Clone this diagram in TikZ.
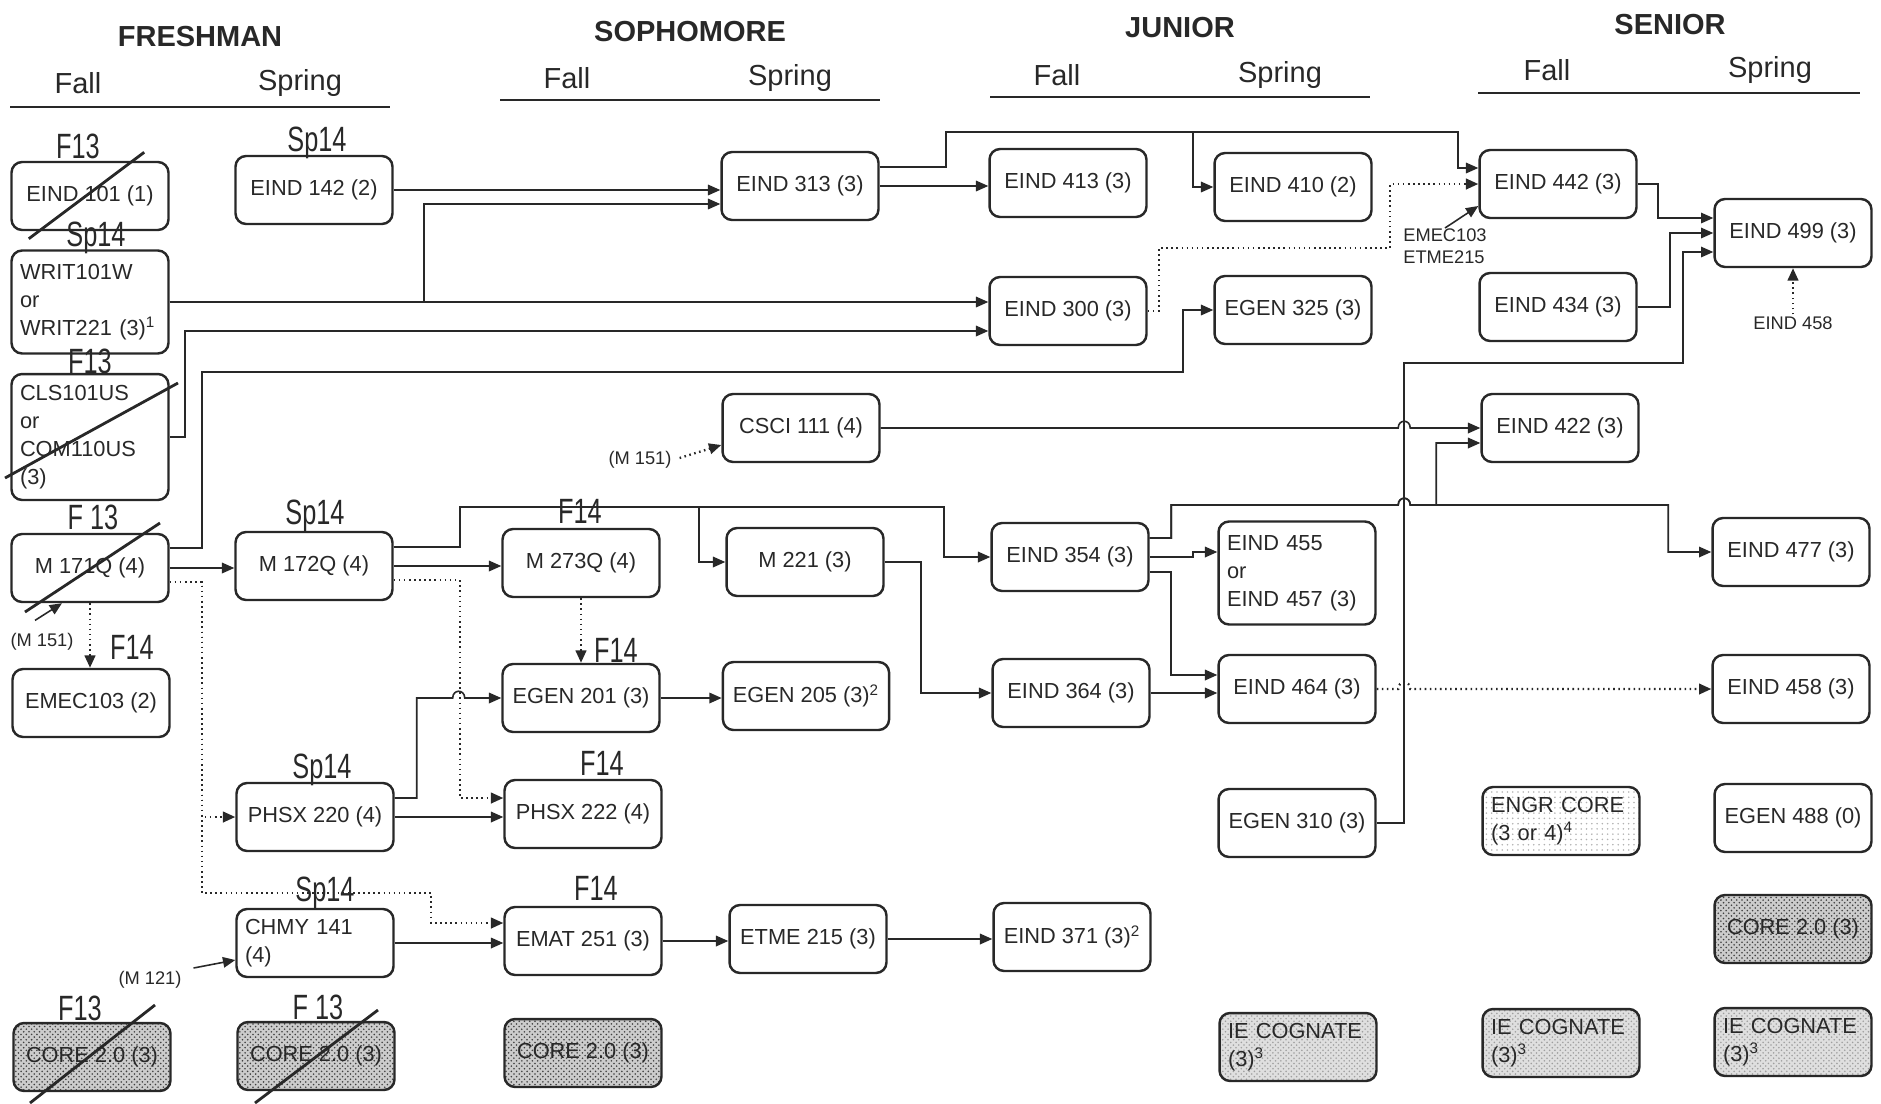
\documentclass[tikz,border=0pt]{standalone}
\usepackage{fontspec}
\setmainfont{Liberation Sans}
\newfontfamily\handfont[FakeStretch=0.72]{Liberation Sans}
\usetikzlibrary{arrows.meta,patterns}
\definecolor{inkc}{RGB}{40,40,40}

\begin{document}
\begin{tikzpicture}[x=0.02cm,y=-0.02cm]
\tikzstyle{course}=[draw=inkc, line width=1.4pt, rounded corners=6pt, minimum width=3.14cm, minimum height=1.36cm, inner xsep=0.2cm, inner ysep=0pt, align=left, text=inkc, font=\fontsize{12.4}{15.9}\selectfont];
\tikzstyle{coursem}=[course, text width=2.8cm, inner xsep=0.17cm];
\tikzstyle{corebox}=[course, preaction={fill=gray!40}, pattern=crosshatch dots, pattern color=black!75];
\tikzstyle{cogbox}=[coursem, preaction={fill=gray!25}, pattern=crosshatch dots, pattern color=gray!75];
\tikzstyle{engrbox}=[coursem, pattern=dots, pattern color=gray!60];
\tikzstyle{year}=[text=inkc, font=\bfseries\fontsize{16.5}{18}\selectfont];
\tikzstyle{term}=[text=inkc, font=\fontsize{16.5}{18}\selectfont];
\tikzstyle{note}=[text=inkc, inner sep=1pt, align=left, font=\fontsize{10.4}{13}\selectfont];
\tikzstyle{hand}=[text=inkc, inner sep=0pt, font=\handfont\fontsize{20}{20}\selectfont];
\tikzstyle{strike}=[draw=inkc, line width=1.6pt];
\tikzstyle{arr}=[draw=inkc, line width=0.9pt, -{Triangle[length=7pt,width=6pt]}];
\tikzstyle{dotarr}=[arr, dotted, line width=1.3pt];

\useasboundingbox (0,0) rectangle (1881,1103);

% headings
\foreach \n/\x/\y/\t in {hfr/200/37/FRESHMAN, hso/690/32/SOPHOMORE, hjr/1180/28/JUNIOR, hsr/1670/25/SENIOR}
  \node[year] (\n) at (\x,\y) {\t};
\foreach \n/\x/\y/\t in {frfa/78/83/Fall, frsp/300/83/Spring, sofa/567/78/Fall, sosp/790/78/Spring,
                         jrfa/1057/75/Fall, jrsp/1280/75/Spring, srfa/1547/70/Fall, srsp/1770/70/Spring}
  \node[term] (\n) at (\x,\y) {\t};
\foreach \a/\b/\y in {10/390/107, 500/880/100, 990/1370/97, 1478/1860/93}
  \draw[inkc, line width=1.3pt] (\a,\y) -- (\b,\y);

% courses
\foreach \n/\x/\y/\t in {e101/90/196/{EIND 101 (1)}, m171/90/568/{M 171Q (4)}, emec/91/703/{EMEC103 (2)},
    e142/314/190/{EIND 142 (2)}, m172/314/566/{M 172Q (4)}, phsx220/315/817/{PHSX 220 (4)},
    m273/581/563/{M 273Q (4)}, egen201/581/698/{EGEN 201 (3)}, phsx222/583/814/{PHSX 222 (4)},
    emat/583/941/{EMAT 251 (3)}, e313/800/186/{EIND 313 (3)}, csci/801/428/{CSCI 111 (4)},
    m221/805/562/{M 221 (3)}, egen205/806/696/{EGEN 205 (3)\textsuperscript{2}}, etme/808/939/{ETME 215 (3)},
    e413/1068/183/{EIND 413 (3)}, e300/1068/311/{EIND 300 (3)}, e354/1070/557/{EIND 354 (3)},
    e364/1071/693/{EIND 364 (3)}, e371/1072/937/{EIND 371 (3)\textsuperscript{2}},
    e410/1293/187/{EIND 410 (2)}, egen325/1293/310/{EGEN 325 (3)}, e464/1297/689/{EIND 464 (3)},
    egen310/1297/823/{EGEN 310 (3)}, e442/1558/184/{EIND 442 (3)}, e434/1558/307/{EIND 434 (3)},
    e422/1560/428/{EIND 422 (3)}, e499/1793/233/{EIND 499 (3)}, e477/1791/552/{EIND 477 (3)},
    e458/1791/689/{EIND 458 (3)}, egen488/1793/818/{EGEN 488 (0)}}
  \node[course] (\n) at (\x,\y) {\t};
\node[coursem, minimum height=2.06cm] (writ) at (90,302) {WRIT101W\\or\\WRIT221 (3)\textsuperscript{1}};
\node[coursem, minimum height=2.52cm] (cls) at (90,437) {CLS101US\\or\\COM110US\\(3)};
\node[coursem, minimum height=2.06cm] (e455) at (1297,573) {EIND 455\\or\\EIND 457 (3)};
\node[coursem] (chmy) at (315,943) {CHMY 141\\(4)};
\foreach \n/\x/\y in {core1/92/1057, core2/316/1056, core3/583/1053, core4/1793/929}
  \node[corebox] (\n) at (\x,\y) {CORE 2.0 (3)};
\foreach \n/\x/\y in {iecog1/1298/1047, iecog2/1561/1043, iecog3/1793/1042}
  \node[cogbox] (\n) at (\x,\y) {IE COGNATE\\(3)\textsuperscript{3}};
\node[engrbox] (engr) at (1561,821) {ENGR CORE\\(3 or 4)\textsuperscript{4}};

% side notes
\node[note] (m151a) at (42,642) {(M 151)};
\node[note] (m151b) at (640,460) {(M 151)};
\node[note] (m121) at (150,980) {(M 121)};
\node[note, anchor=north west, inner sep=0pt] (emecl) at (1403,228) {EMEC103\\ETME215};
\node[note] (e458l) at (1793,323) {EIND 458};

% freshman
\draw[arr] (e142.east) -- (e142.east -| e313.west);
\draw[arr] (writ.east) -- ++(254,0) |- ([shift={(0,18)}]e313.west);
\draw[arr] (writ.east) -- (writ.east -| e300.west);
\draw[arr] (cls.east) -- ++(15,0) |- ([shift={(0,20)}]e300.west);
\draw[arr] ([shift={(0,-20)}]m171.east) -- ++(32,0) -- ++(0,-176) -- ++(981,0) |- (egen325.west);
\draw[arr] (m171.east) -- (m171.east -| m172.west);
\draw[dotarr] ([shift={(0,14)}]m171.east) -- ++(32,0) |- (phsx220.west);
\draw[dotarr] ([shift={(0,14)}]m171.east) -- ++(32,0) -- ++(0,311) -- ++(229.5,0) |- ([shift={(0,-18)}]emat.west);
\draw[dotarr] (m171.south) -- (m171.south |- emec.north);
\draw[arr] ([shift={(-7,-11)}]m151a.north) -- ([shift={(-28,0)}]m171.south);
\draw[arr] (m172.east) -- (m172.east -| m273.west);
\draw[arr] ([shift={(0,-19)}]m172.east) -- ++(66,0) -- ++(0,-40) -- ++(239,0) |- (m221.west);
\draw[arr] ([shift={(0,-19)}]m172.east) -- ++(66,0) -- ++(0,-40) -- ++(484,0) |- (e354.west);
\draw[dotarr] ([shift={(0,14)}]m172.east) -- ++(66,0) |- ([shift={(0,-16)}]phsx222.west);
\draw[arr] ([shift={(0,-19)}]phsx220.east) -- ++(22,0) -- ++(0,-100) -- ++(36,0) .. controls +(0,-9) and +(0,-9) .. ++(12,0) -- (egen201.west);
\draw[arr] (phsx220.east) -- (phsx220.east -| phsx222.west);
\draw[arr] (chmy.east) -- (chmy.east -| emat.west);
\draw[arr] ([shift={(10,-12)}]m121.east) -- ([shift={(0,17)}]chmy.west);

% sophomore
\draw[dotarr] (m273.south) -- (m273.south |- egen201.north);
\draw[arr] (egen201.east) -- (egen201.east -| egen205.west);
\draw[arr] (emat.east) -- (emat.east -| etme.west);
\draw[arr] (etme.east) -- (etme.east -| e371.west);
\draw[arr] (m221.east) -- ++(36,0) |- (e364.west);
\draw[dotarr] ([shift={(6,-2)}]m151b.east) -- ([shift={(0,17)}]csci.west);
\draw[arr] (csci.east) -- ++(517.5,0) .. controls +(0,-9) and +(0,-9) .. ++(12,0) -- (e422.west);
\draw[arr] (e313.east) -- (e313.east -| e413.west);
\draw[arr] ([shift={(0,-19)}]e313.east) -- ++(66.5,0) -- ++(0,-35) -- ++(247,0) |- (e410.west);
\draw[arr] ([shift={(0,-19)}]e313.east) -- ++(66.5,0) -- ++(0,-35) -- ++(512,0) |- ([shift={(0,-16)}]e442.west);

% junior
\draw[dotarr] (e300.east) -- ++(11,0) -- ++(0,-63) -- ++(231.5,0) |- (e442.west);
\draw[arr] (emecl.north) -- ([shift={(0,22)}]e442.west);
\draw[arr] ([shift={(0,-19)}]e354.east) -- ++(21.5,0) -- ++(0,-33) -- ++(227,0) .. controls +(0,-9) and +(0,-9) .. ++(12,0) -- ++(26,0) |- ([shift={(0,15)}]e422.west);
\draw[arr] ([shift={(0,-19)}]e354.east) -- ++(21.5,0) -- ++(0,-33) -- ++(227,0) .. controls +(0,-9) and +(0,-9) .. ++(12,0) -- ++(258,0) |- (e477.west);
\draw[arr] (e354.east) -- ++(43.5,0) |- ([shift={(0,-21)}]e455.west);
\draw[arr] ([shift={(0,15)}]e354.east) -- ++(21.5,0) |- ([shift={(0,-14)}]e464.west);
\draw[arr] (e364.east) -- (e364.east -| e464.west);
\draw[dotarr] (e464.east) -- ++(21.5,0) .. controls +(0,-9) and +(0,-9) .. ++(12,0) -- (e458.west);
\draw[arr] (egen310.east) -- ++(27,0) -- ++(0,-460) -- ++(279,0) |- ([shift={(0,19)}]e499.west);

% senior
\draw[arr] (e442.east) -- ++(20,0) |- ([shift={(0,-15)}]e499.west);
\draw[arr] (e434.east) -- ++(32,0) |- (e499.west);
\draw[dotarr] (e458l.north) -- (e458l.north |- e499.south);

% hand marks
\foreach \x/\y/\t [count=\i] in {78/146/F13, 96/238/Sp14, 317/143/Sp14, 90/361/F13, 93/517/F 13,
    315/516/Sp14, 132/647/F14, 322/770/Sp14, 325/893/Sp14, 80/1008/F13, 318/1007/F 13,
    580/511/F14, 616/650/F14, 602/763/F14, 596/888/F14}
  \node[hand] (hw\i) at (\x,\y) {\t};
\draw[strike] ([shift={(18.5,7.5)}]e101.south west) -- ([shift={(-25.5,-8.5)}]e101.north east);
\draw[strike] ([shift={(-85,41)}]cls.center) -- ([shift={(88,-54)}]cls.center);
\draw[strike] ([shift={(-65,44)}]m171.center) -- ([shift={(70,-45)}]m171.center);
\draw[strike] ([shift={(-62,46)}]core1.center) -- ([shift={(63,-52)}]core1.center);
\draw[strike] ([shift={(-61,47)}]core2.center) -- ([shift={(62,-46)}]core2.center);

\end{tikzpicture}
\end{document}
